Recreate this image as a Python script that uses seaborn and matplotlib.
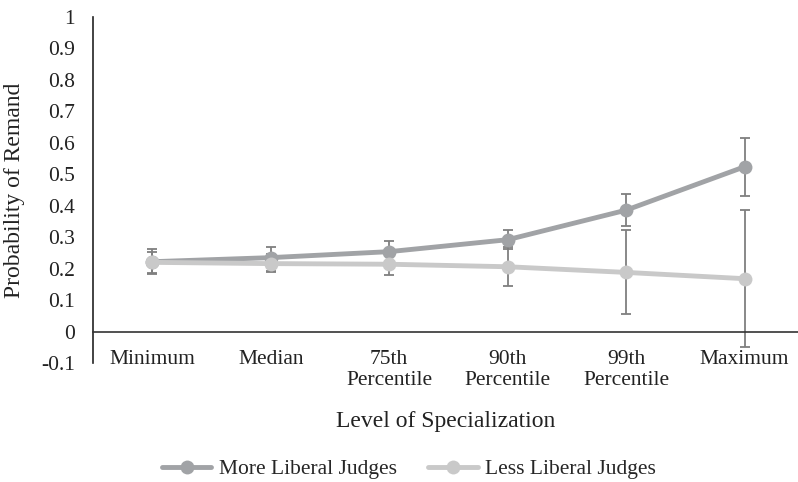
import matplotlib
matplotlib.use("Agg")
import matplotlib.pyplot as plt
import seaborn as sns
import pandas as pd

levels = ["Minimum", "Median", "75th\nPercentile", "90th\nPercentile", "99th\nPercentile", "Maximum"]
more_liberal = [0.222, 0.235, 0.254, 0.292, 0.386, 0.524]
more_low = [0.182, 0.192, 0.222, 0.262, 0.334, 0.430]
more_high = [0.263, 0.270, 0.288, 0.322, 0.436, 0.616]
less_liberal = [0.220, 0.216, 0.214, 0.206, 0.188, 0.168]
less_low = [0.185, 0.190, 0.180, 0.146, 0.057, -0.050]
less_high = [0.252, 0.245, 0.250, 0.270, 0.322, 0.385]
groups = ["More Liberal Judges", "Less Liberal Judges"]
colors = {"More Liberal Judges": "#a1a3a6", "Less Liberal Judges": "#c9c9c9"}

df = pd.DataFrame({
    "level": levels * 2,
    "prob": more_liberal + less_liberal,
    "group": [groups[0]] * len(levels) + [groups[1]] * len(levels),
})

sns.set_theme(style="white")
plt.rcParams["font.family"] = ["Liberation Serif", "DejaVu Serif"]

fig = plt.figure(figsize=(7.98, 4.82), dpi=100)
ax = fig.add_axes([0.1165, 0.2469, 0.8835, 0.7178])

# error bars first so the series lines sit on top
xs = list(range(len(levels)))
for mid, lo, hi in [(more_liberal, more_low, more_high), (less_liberal, less_low, less_high)]:
    yerr = [[m - l for m, l in zip(mid, lo)], [h - m for m, h in zip(mid, hi)]]
    ax.errorbar(xs, mid, yerr=yerr, fmt="none", ecolor="#7f7f7f",
                elinewidth=1.3, capsize=3.5, capthick=1.3, zorder=1)

sns.lineplot(data=df, x="level", y="prob", hue="group", palette=colors,
             marker="o", markersize=10, markeredgewidth=0, linewidth=3.5,
             sort=False, ax=ax, zorder=2)

ax.set_xlim(-0.5, 5.45)
ax.set_ylim(-0.1, 1.0)
ax.set_yticks([-0.1, 0, 0.1, 0.2, 0.3, 0.4, 0.5, 0.6, 0.7, 0.8, 0.9, 1.0])
ax.set_yticklabels(["-0.1", "0", "0.1", "0.2", "0.3", "0.4", "0.5", "0.6", "0.7", "0.8", "0.9", "1"])
ax.set_xticks(xs)
ax.set_xticklabels(levels, linespacing=1.35)

for side in ["top", "right"]:
    ax.spines[side].set_visible(False)
ax.spines["left"].set_color("#222222")
ax.spines["left"].set_linewidth(1.2)
ax.spines["bottom"].set_position(("data", 0))
ax.spines["bottom"].set_color("#333333")
ax.spines["bottom"].set_linewidth(1.2)

ax.tick_params(axis="both", length=0, labelsize=15.5, colors="#222222")
ax.tick_params(axis="y", pad=13)
ax.tick_params(axis="x", pad=13)

ax.set_xlabel("Level of Specialization", fontsize=17, color="#222222")
ax.set_ylabel("Probability of Remand", fontsize=17, color="#222222")
ax.xaxis.set_label_coords(0.5, -0.14)
ax.yaxis.set_label_coords(-0.097, 0.5)

ax.get_legend().remove()
handles, labels = ax.get_legend_handles_labels()
fig.legend(handles, labels, loc="center", bbox_to_anchor=(409 / 798, 1 - 469 / 482),
           ncol=2, frameon=False, fontsize=15.5, handlelength=2.3,
           columnspacing=1.45, handletextpad=0.35)

fig.savefig("out.png", dpi=100)
